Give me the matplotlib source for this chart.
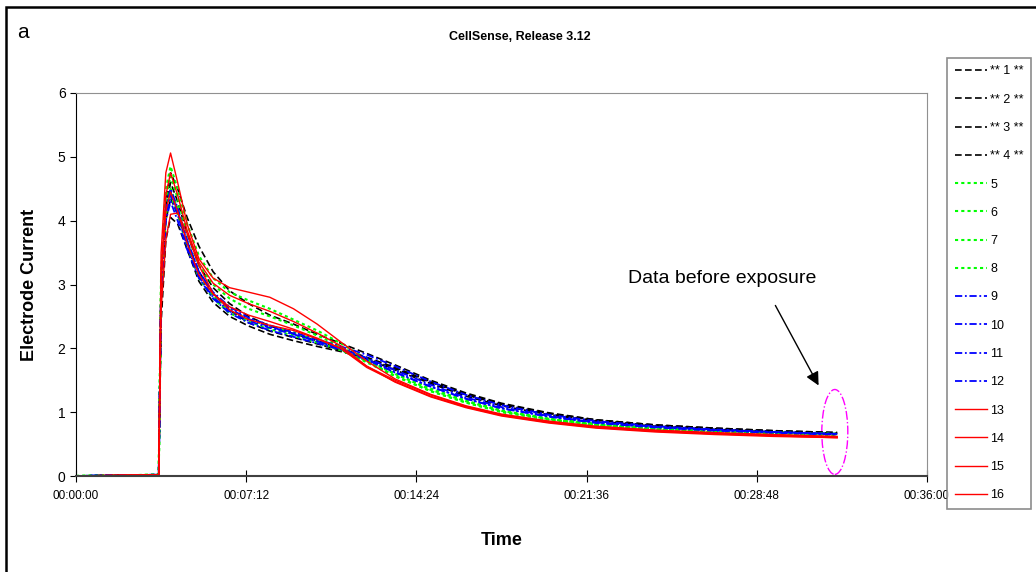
import numpy as np
import matplotlib
matplotlib.use("Agg")
import matplotlib.pyplot as plt
from matplotlib.ticker import FuncFormatter
from matplotlib.patches import Ellipse, Rectangle

plt.rcParams['font.family'] = ['Liberation Sans Narrow', 'Liberation Sans', 'DejaVu Sans']

# time in minutes
t = [0, 3.5, 3.6, 3.8, 4.0, 4.3, 4.7, 5.2, 5.8, 6.5, 7.3, 8.2, 9.2, 10.2, 11.2,
     12.3, 13.5, 15.0, 16.5, 18.0, 20.0, 22.0, 24.5, 27.0, 29.5, 32.2]

s1 = [0, 0.02, 2.8, 4.3, 4.75, 4.5, 4.05, 3.6, 3.2, 2.9, 2.7, 2.52, 2.38, 2.22, 2.08, 1.92, 1.74, 1.5, 1.3, 1.14, 0.99, 0.88, 0.8, 0.75, 0.71, 0.68]
s2 = [0, 0.02, 2.4, 3.7, 4.05, 3.95, 3.55, 3.05, 2.72, 2.5, 2.35, 2.22, 2.12, 2.03, 1.95, 1.84, 1.68, 1.47, 1.27, 1.12, 0.97, 0.87, 0.79, 0.74, 0.70, 0.67]
s3 = [0, 0.02, 3.0, 4.2, 4.6, 4.3, 3.8, 3.3, 2.95, 2.7, 2.5, 2.35, 2.23, 2.12, 2.0, 1.86, 1.7, 1.48, 1.28, 1.13, 0.98, 0.88, 0.80, 0.75, 0.71, 0.68]
s4 = [0, 0.02, 2.9, 4.0, 4.35, 4.1, 3.65, 3.2, 2.85, 2.6, 2.4, 2.27, 2.17, 2.07, 1.97, 1.83, 1.66, 1.45, 1.25, 1.1, 0.96, 0.86, 0.78, 0.73, 0.69, 0.66]
s5 = [0, 0.02, 3.2, 4.5, 4.85, 4.5, 3.95, 3.45, 3.1, 2.88, 2.75, 2.62, 2.45, 2.28, 2.08, 1.83, 1.6, 1.35, 1.17, 1.02, 0.89, 0.8, 0.73, 0.69, 0.66, 0.64]
s6 = [0, 0.02, 3.1, 4.35, 4.7, 4.35, 3.8, 3.3, 3.0, 2.78, 2.62, 2.5, 2.36, 2.2, 2.03, 1.8, 1.57, 1.33, 1.15, 1.0, 0.88, 0.8, 0.74, 0.7, 0.67, 0.65]
s7 = [0, 0.02, 3.0, 4.2, 4.5, 4.2, 3.65, 3.15, 2.82, 2.6, 2.45, 2.35, 2.25, 2.12, 1.98, 1.78, 1.56, 1.33, 1.15, 1.01, 0.89, 0.81, 0.75, 0.71, 0.68, 0.66]
s8 = [0, 0.02, 2.9, 4.1, 4.4, 4.1, 3.6, 3.1, 2.78, 2.55, 2.42, 2.3, 2.2, 2.09, 1.97, 1.8, 1.6, 1.37, 1.18, 1.03, 0.9, 0.82, 0.75, 0.71, 0.68, 0.66]
s9 = [0, 0.02, 3.0, 4.2, 4.5, 4.2, 3.7, 3.2, 2.88, 2.65, 2.48, 2.36, 2.25, 2.14, 2.03, 1.9, 1.72, 1.48, 1.27, 1.11, 0.96, 0.86, 0.78, 0.73, 0.69, 0.66]
s10 = [0, 0.02, 3.0, 4.1, 4.4, 4.1, 3.6, 3.12, 2.8, 2.58, 2.43, 2.32, 2.22, 2.11, 2.0, 1.85, 1.66, 1.43, 1.23, 1.08, 0.94, 0.84, 0.77, 0.72, 0.69, 0.66]
s11 = [0, 0.02, 2.9, 4.0, 4.3, 4.0, 3.55, 3.1, 2.78, 2.55, 2.4, 2.28, 2.18, 2.08, 1.98, 1.82, 1.62, 1.4, 1.21, 1.06, 0.93, 0.84, 0.77, 0.72, 0.68, 0.65]
s12 = [0, 0.02, 3.0, 4.15, 4.45, 4.15, 3.68, 3.2, 2.86, 2.62, 2.46, 2.34, 2.23, 2.11, 1.99, 1.83, 1.63, 1.4, 1.21, 1.06, 0.93, 0.83, 0.76, 0.71, 0.68, 0.65]
s13 = [0, 0.02, 3.5, 4.75, 5.06, 4.6, 3.95, 3.4, 3.1, 2.95, 2.88, 2.8, 2.62, 2.38, 2.1, 1.8, 1.52, 1.28, 1.1, 0.97, 0.86, 0.78, 0.72, 0.68, 0.65, 0.62]
s14 = [0, 0.02, 3.2, 4.4, 4.75, 4.4, 3.85, 3.35, 3.02, 2.83, 2.7, 2.58, 2.42, 2.24, 2.04, 1.72, 1.5, 1.27, 1.09, 0.96, 0.85, 0.77, 0.71, 0.67, 0.64, 0.61]
s15 = [0, 0.02, 3.0, 4.15, 4.45, 4.15, 3.65, 3.15, 2.85, 2.65, 2.52, 2.42, 2.3, 2.16, 2.0, 1.7, 1.48, 1.25, 1.08, 0.95, 0.84, 0.76, 0.70, 0.66, 0.63, 0.60]
s16 = [0, 0.02, 2.6, 3.7, 4.1, 4.12, 3.8, 3.3, 2.86, 2.6, 2.45, 2.36, 2.28, 2.15, 2.0, 1.72, 1.47, 1.24, 1.07, 0.94, 0.83, 0.75, 0.69, 0.65, 0.62, 0.60]

series = [s1, s2, s3, s4, s5, s6, s7, s8, s9, s10, s11, s12, s13, s14, s15, s16]
labels = ['** 1 **', '** 2 **', '** 3 **', '** 4 **', '5', '6', '7', '8',
          '9', '10', '11', '12', '13', '14', '15', '16']

xticks = [0, 7.2, 14.4, 21.6, 28.8, 36]


def hms(m, pos):
    s = int(round(m * 60))
    return "%02d:%02d:%02d" % (s // 3600, (s % 3600) // 60, s % 60)


fig = plt.figure(figsize=(10.36, 5.72), dpi=100)
W, H = 1036, 572

# outer frame
fig.patches.append(Rectangle((6 / W, -0.05), 1.1, 1 - 7 / H + 0.05, transform=fig.transFigure,
                             fill=False, edgecolor='black', linewidth=1.8))

ax = fig.add_axes([76 / W, 1 - 476 / H, 851 / W, 383 / H])

for i, s in enumerate(series):
    if i < 4:
        ax.plot(t, s, color='black', linestyle=(0, (4, 2)), linewidth=1.2, label=labels[i])
    elif i < 8:
        ax.plot(t, s, color='#00ff00', linestyle=(0, (1.5, 1.5)), linewidth=1.5, label=labels[i])
    elif i < 12:
        ax.plot(t, s, color='#0000ff', linestyle=(0, (4, 1.5, 1, 1.5)), linewidth=1.3, label=labels[i])
    else:
        ax.plot(t, s, color='#ff0000', linestyle='-', linewidth=1.0, label=labels[i])

ax.set_xlim(0, 36)
ax.set_ylim(0, 6)
ax.set_xticks(xticks)
ax.xaxis.set_major_formatter(FuncFormatter(hms))
ax.set_yticks(range(0, 7))
ax.tick_params(axis='x', direction='inout', length=8, labelsize=8.5, pad=6)
ax.tick_params(axis='y', direction='out', length=4, labelsize=10)
for side in ['top', 'right']:
    ax.spines[side].set_color('#909090')
ax.spines['left'].set_color('black')
ax.spines['bottom'].set_color('#404040')
ax.spines['bottom'].set_linewidth(1.5)

ax.set_xlabel('Time', fontsize=13, fontweight='bold', labelpad=22)
ax.set_ylabel('Electrode Current', fontsize=13, fontweight='bold', labelpad=14)

# annotation
ax.add_patch(Ellipse((32.1, 0.69), 1.1, 1.33, fill=False, edgecolor='#ff00ff',
                     linestyle='-.', linewidth=1.0))
ax.annotate('', xy=(31.47, 1.38), xytext=(29.53, 2.71),
            arrowprops=dict(arrowstyle='-|>', color='black', lw=1.0, mutation_scale=20))
ax.text(27.33, 3.10, 'Data before exposure', fontsize=14, ha='center', va='center')

fig.text(520 / W, 1 - 37 / H, 'CellSense, Release 3.12', fontsize=9, fontweight='bold',
         ha='center', va='center')
fig.text(23 / W, 1 - 32 / H, 'a', fontsize=15, ha='center', va='center')

leg = fig.legend(loc='upper left', bbox_to_anchor=(947 / W, 1 - 58 / H), fontsize=9,
                 frameon=True, fancybox=False, edgecolor='#707070', handlelength=2.6,
                 handletextpad=0.25, labelspacing=1.3, borderpad=0.6, borderaxespad=0)
leg.get_frame().set_linewidth(1.2)

fig.savefig('out.png', dpi=100)
